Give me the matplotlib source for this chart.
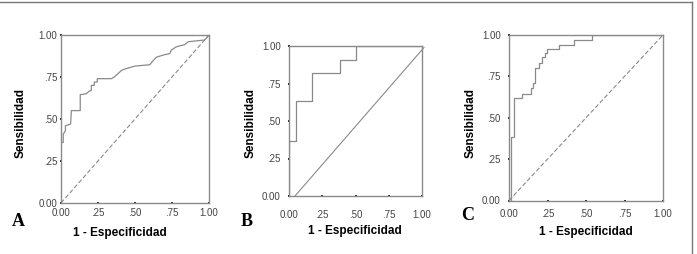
import matplotlib
matplotlib.use("Agg")
import matplotlib.pyplot as plt
from matplotlib.lines import Line2D

# curvas ROC (vertices)
fpr_a = [0, 0, 0.015, 0.015, 0.03, 0.03, 0.065, 0.07, 0.13, 0.13, 0.17, 0.19, 0.205, 0.205,
         0.225, 0.225, 0.245, 0.245, 0.34, 0.36, 0.385, 0.41, 0.44, 0.50, 0.60, 0.62, 0.645,
         0.70, 0.735, 0.745, 0.78, 0.80, 0.835, 0.86, 0.925, 0.97, 1.0]
tpr_a = [0, 0.36, 0.36, 0.41, 0.43, 0.46, 0.47, 0.55, 0.55, 0.645, 0.65, 0.665, 0.67, 0.70,
         0.70, 0.72, 0.72, 0.74, 0.74, 0.75, 0.77, 0.79, 0.80, 0.815, 0.823, 0.845, 0.868,
         0.883, 0.889, 0.91, 0.93, 0.935, 0.942, 0.96, 0.966, 0.97, 1.0]

fpr_b = [0, 0, 0.053, 0.053, 0.17, 0.17, 0.385, 0.385, 0.50, 0.50, 1.0]
tpr_b = [0, 0.364, 0.364, 0.636, 0.636, 0.818, 0.818, 0.909, 0.909, 1.0, 1.0]

fpr_c = [0, 0.015, 0.015, 0.03, 0.03, 0.084, 0.084, 0.143, 0.143, 0.158, 0.158, 0.172, 0.172,
         0.197, 0.197, 0.214, 0.214, 0.236, 0.236, 0.245, 0.245, 0.323, 0.323, 0.424, 0.424,
         0.537, 0.537, 1.0]
tpr_c = [0, 0, 0.386, 0.386, 0.618, 0.618, 0.645, 0.645, 0.68, 0.68, 0.71, 0.71, 0.80,
         0.80, 0.83, 0.83, 0.87, 0.87, 0.89, 0.89, 0.916, 0.916, 0.942, 0.942, 0.968,
         0.968, 1.0, 1.0]

ticks = [0, 0.25, 0.5, 0.75, 1.0]
tick_labels = ["0.00", ".25", ".50", ".75", "1.00"]

plt.rcParams["font.family"] = ["Liberation Sans", "DejaVu Sans"]

fig = plt.figure(figsize=(6.97, 2.54), dpi=100)
W, H = 697, 254

# posicion de cada panel en pixeles: izq, der, arriba, abajo
paneles = [
    dict(box=(61, 209, 35, 203), fpr=fpr_a, tpr=tpr_a, letra="A", lpos=(12, 222),
         diag=((0, 1), (0, 1)), ls="--", ylab=(-0.23, 0.476), xlab=(0.40, -0.143), xpad=2.5, ypad=1.5),
    dict(box=(289, 422, 46, 196), fpr=fpr_b, tpr=tpr_b, letra="B", lpos=(241, 222),
         diag=((0.045, 1.015), (0, 0.99)), ls="-", ylab=(-0.24, 0.487), xlab=(0.496, -0.193), xpad=9, ypad=5),
    dict(box=(509, 663, 35, 200.5), fpr=fpr_c, tpr=tpr_c, letra="C", lpos=(461, 216),
         diag=((0, 1), (0, 1)), ls="--", ylab=(-0.208, 0.468), xlab=(0.50, -0.154), xpad=5, ypad=5),
]

for p in paneles:
    l, r, t, b = p["box"]
    ax = fig.add_axes([l / W, (H - b) / H, (r - l) / W, (b - t) / H])
    ax.plot(p["fpr"], p["tpr"], color="#8a8a8a", lw=0.9)
    dx, dy = p["diag"]
    ax.plot(dx, dy, color="#8a8a8a", lw=0.8, ls=p["ls"], dashes=(4, 2) if p["ls"] == "--" else (None, None),
            clip_on=False)
    ax.set_xlim(0, 1)
    ax.set_ylim(0, 1)
    ax.set_xticks(ticks)
    ax.set_yticks(ticks)
    ax.set_xticklabels(tick_labels)
    ax.set_yticklabels(tick_labels)
    ax.tick_params(axis="x", direction="inout", length=2, width=1.4, color="#222222",
                   labelsize=7, labelcolor="#444444", pad=p["xpad"])
    ax.tick_params(axis="y", direction="inout", length=2, width=1.4, color="#222222",
                   labelsize=7, labelcolor="#444444", pad=p["ypad"])
    for s in ax.spines.values():
        s.set_color("#8a8a8a")
        s.set_linewidth(1.0)
    ax.set_ylabel("Sensibilidad", fontsize=8.5, fontweight="bold")
    ax.yaxis.set_label_coords(*p["ylab"])
    ax.set_xlabel("1 - Especificidad", fontsize=8.5, fontweight="bold")
    ax.xaxis.set_label_coords(*p["xlab"])
    fig.text(p["lpos"][0] / W, 1 - p["lpos"][1] / H, p["letra"], fontsize=13, fontweight="bold",
             family=["Liberation Serif", "DejaVu Serif"], ha="left", va="center")

# marco exterior (solo se ve arriba y a la derecha)
fig.add_artist(Line2D([0, 692 / W], [1 - 2 / H, 1 - 2 / H], color="#777777", lw=1.0))
fig.add_artist(Line2D([692 / W, 692 / W], [0, 1 - 2 / H], color="#777777", lw=1.0))

fig.savefig("out.png", dpi=100)
